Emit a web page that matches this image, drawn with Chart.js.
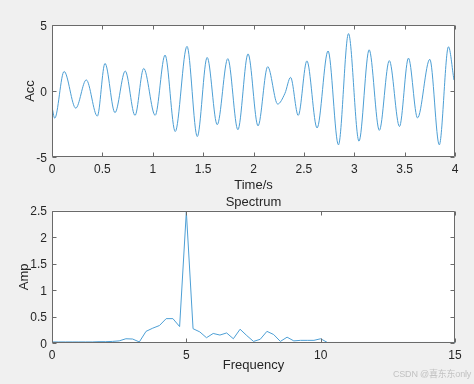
<!DOCTYPE html>
<html><head><meta charset="utf-8">
<script src="https://cdn.jsdelivr.net/npm/chart.js@4/dist/chart.umd.min.js"></script>
<style>
html,body{margin:0;padding:0;background:#f0f0f0;}
body{width:474px;height:384px;position:relative;overflow:hidden;font-family:"Liberation Sans",Arial,sans-serif;}
#c1{position:absolute;left:0;top:0;}
#c2{position:absolute;left:0;top:190px;}
#wm{position:absolute;left:393px;top:369px;font-size:9px;line-height:11px;color:#c2c2c2;font-family:"Liberation Sans","Noto Sans CJK SC",sans-serif;white-space:nowrap;letter-spacing:-0.2px;}
</style></head><body>
<canvas id="c1" width="474" height="200"></canvas>
<canvas id="c2" width="474" height="194"></canvas>
<div id="wm">CSDN @喜东东only</div>
<script>
// ---- Data ----
const timeS = [0, 0.027, 0.12, 0.236, 0.34, 0.45, 0.526, 0.625, 0.727, 0.824, 0.91, 1.024, 1.122, 1.223, 1.34, 1.442, 1.54, 1.64, 1.745, 1.845, 1.946, 2.045, 2.141, 2.24, 2.312, 2.368, 2.444, 2.53, 2.631, 2.74, 2.843, 2.943, 3.047, 3.148, 3.249, 3.348, 3.449, 3.538, 3.628, 3.75, 3.844, 3.935, 3.99];
const accValues = [-1.2, -2.06, 1.48, -1.3, 0.84, -1.9, 2.09, -1.64, 1.51, -1.85, 1.71, -1.84, 2.72, -3.07, 3.38, -3.45, 2.54, -2.55, 2.45, -2.93, 2.81, -2.64, 1.84, -0.99, -0.18, 1.03, -1.85, 2.28, -2.8, 3.03, -4.08, 4.35, -3.8, 3.12, -2.98, 2.3, -2.69, 2.49, -2.04, 2.4, -4.08, 3.35, 0.83];

const freqHz = [0, 0.25, 0.5, 0.75, 1, 1.25, 1.5, 1.75, 2, 2.25, 2.5, 2.75, 3, 3.25, 3.5, 3.75, 4, 4.25, 4.5, 4.75, 5, 5.25, 5.5, 5.75, 6, 6.25, 6.5, 6.75, 7, 7.25, 7.5, 7.75, 8, 8.25, 8.5, 8.75, 9, 9.25, 9.5, 9.75, 10, 10.25, 10.5, 10.75, 11, 11.25, 11.5, 11.75, 12, 12.25, 12.5, 12.75, 13, 13.25, 13.5, 13.75, 14, 14.25, 14.5, 14.75, 15];
const ampValues = [0.02, 0.02, 0.02, 0.02, 0.02, 0.02, 0.02, 0.025, 0.025, 0.03, 0.04, 0.08, 0.075, 0.02, 0.22, 0.28, 0.33, 0.46, 0.46, 0.31, 2.48, 0.27, 0.21, 0.10, 0.18, 0.15, 0.19, 0.08, 0.26, 0.14, 0.03, 0.07, 0.22, 0.16, 0.03, 0.11, 0.04, 0.05, 0.05, 0.05, 0.08, 0.01, 0.01, 0.01, 0.01, 0.01, 0.01, 0.01, 0.01, 0.01, 0.01, 0.01, 0.01, 0.01, 0.01, 0.01, 0.01, 0.01, 0.01, 0.01, 0.01];

const timeTicks = [0, 0.5, 1, 1.5, 2, 2.5, 3, 3.5, 4];
const accTicks = [-5, 0, 5];
const freqTicks = [0, 5, 10, 15];
const ampTicks = [0, 0.5, 1, 1.5, 2, 2.5];

// ---- Styling ----
const LINE = '#4d9fd5';
const TXT = '#262626';
const BOX = '#6a6a6a';
const FONT = "'Liberation Sans', Arial, sans-serif";

const boxPlugin = {
  id: 'matlabBox',
  beforeDraw(chart) {
    const {ctx, chartArea: a} = chart;
    ctx.save();
    ctx.fillStyle = '#ffffff';
    ctx.fillRect(a.left, a.top, a.right - a.left, a.bottom - a.top);
    ctx.restore();
  },
  afterDraw(chart) {
    const {ctx, chartArea: a, scales: {x, y}} = chart;
    const L = Math.round(a.left) + 0.5, R = Math.round(a.right) - 0.5;
    const T = Math.round(a.top) + 0.5, B = Math.round(a.bottom) - 0.5;
    const tl = 4;
    ctx.save();
    ctx.strokeStyle = BOX;
    ctx.lineWidth = 1;
    ctx.beginPath();
    ctx.rect(L, T, R - L, B - T);
    x.ticks.forEach(t => {
      const px = Math.round(x.getPixelForValue(t.value)) + 0.5;
      ctx.moveTo(px, B); ctx.lineTo(px, B - tl);
      ctx.moveTo(px, T); ctx.lineTo(px, T + tl);
    });
    y.ticks.forEach(t => {
      const py = Math.round(y.getPixelForValue(t.value)) + 0.5;
      ctx.moveTo(L, py); ctx.lineTo(L + tl, py);
      ctx.moveTo(R, py); ctx.lineTo(R - tl, py);
    });
    ctx.stroke();
    ctx.restore();
  }
};

function xScale(min, max, ticks, title, h, titlePad) {
  return {
    type: 'linear', min, max,
    afterBuildTicks: s => { s.ticks = ticks.map(v => ({value: v})); },
    afterFit: s => { s.height = h; },
    ticks: {color: TXT, font: {family: FONT, size: 12}, padding: 5, maxRotation: 0, autoSkip: false, callback: v => String(v)},
    grid: {display: false, drawTicks: false},
    border: {display: false},
    title: {display: true, text: title, color: TXT, font: {family: FONT, size: 13}, padding: {top: 0, bottom: titlePad}}
  };
}
function yScale(min, max, ticks, title, titlePad) {
  return {
    type: 'linear', min, max,
    afterBuildTicks: s => { s.ticks = ticks.map(v => ({value: v})); },
    afterFit: s => { s.width = 52; },
    ticks: {color: TXT, font: {family: FONT, size: 12}, padding: 5, labelOffset: 1.5, autoSkip: false, callback: v => String(v)},
    grid: {display: false, drawTicks: false},
    border: {display: false},
    title: {display: true, text: title, color: TXT, font: {family: FONT, size: 13}, padding: {top: titlePad, bottom: 0}}
  };
}

new Chart(document.getElementById('c1'), {
  type: 'line',
  data: {datasets: [{
    data: timeS.map((t, i) => ({x: t, y: accValues[i]})),
    borderColor: LINE, borderWidth: 1, pointRadius: 0, fill: false,
    cubicInterpolationMode: 'monotone'
  }]},
  options: {
    responsive: false, animation: false, events: [],
    layout: {padding: {top: 25, right: 19, left: 0, bottom: 0}},
    plugins: {legend: {display: false}, tooltip: {enabled: false}, title: {display: false}},
    scales: {
      x: xScale(0, 4, timeTicks, 'Time/s', 43, 6.5),
      y: yScale(-5, 5, accTicks, 'Acc', 22.5)
    }
  },
  plugins: [boxPlugin]
});

new Chart(document.getElementById('c2'), {
  type: 'line',
  data: {datasets: [{
    data: freqHz.map((f, i) => ({x: f, y: ampValues[i]})),
    borderColor: LINE, borderWidth: 1, pointRadius: 0, fill: false, tension: 0
  }]},
  options: {
    responsive: false, animation: false, events: [],
    layout: {padding: {top: 0, right: 19, left: 0, bottom: 0}},
    plugins: {
      legend: {display: false}, tooltip: {enabled: false},
      title: {display: true, text: 'Spectrum', fullSize: false, color: TXT,
        font: {family: FONT, size: 13, weight: 'normal'}, padding: {top: 5, bottom: 0}}
    },
    scales: {
      x: xScale(0, 15, freqTicks, 'Frequency', 41, 10.5),
      y: yScale(0, 2.5, ampTicks, 'Amp', 16.5)
    }
  },
  plugins: [boxPlugin]
});
</script>
</body></html>
